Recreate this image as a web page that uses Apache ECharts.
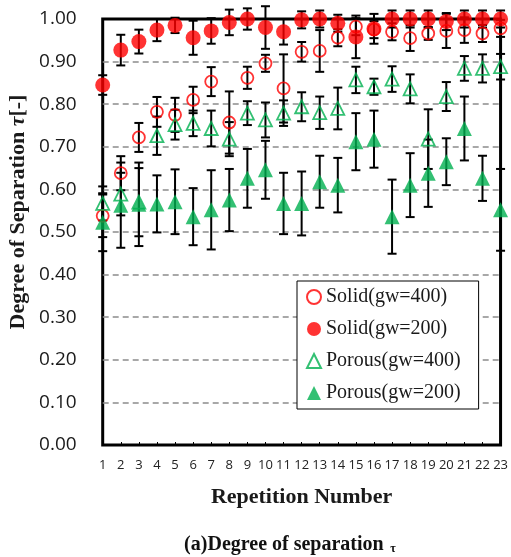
<!DOCTYPE html>
<html><head><meta charset="utf-8">
<script src="https://cdn.jsdelivr.net/npm/echarts@6/dist/echarts.min.js"></script>
<style>html,body{margin:0;padding:0;background:#fff}#c{width:511px;height:557px}</style>
</head><body><div id="c"></div>
<script>
const categories = ['1','2','3','4','5','6','7','8','9','10','11','12','13','14','15','16','17','18','19','20','21','22','23'];
const yTicks = [0,0.1,0.2,0.3,0.4,0.5,0.6,0.7,0.8,0.9,1.0];
const solid400 = [0.538,0.638,0.722,0.782,0.775,0.810,0.853,0.757,0.862,0.896,0.837,0.923,0.925,0.956,0.982,0.975,0.970,0.955,0.966,0.972,0.974,0.966,0.978];
const solid400Err = [0.050,0.040,0.034,0.035,0.040,0.031,0.034,0.073,0.026,0.020,0.080,0.023,0.049,0.020,0.020,0.020,0.020,0.030,0.015,0.040,0.030,0.020,0.020];
const solid200 = [0.845,0.927,0.947,0.974,0.985,0.956,0.972,0.992,1.000,0.980,0.970,0.998,1.000,0.990,0.958,0.977,1.000,1.000,1.000,0.994,1.000,1.000,1.000];
const solid200Err = [0.023,0.036,0.028,0.026,0.018,0.040,0.030,0.030,0.025,0.050,0.030,0.020,0.020,0.020,0.050,0.035,0.020,0.020,0.020,0.020,0.020,0.020,0.020];
const porous400 = [0.567,0.589,0.570,0.726,0.752,0.755,0.743,0.718,0.779,0.763,0.779,0.794,0.780,0.790,0.857,0.841,0.859,0.836,0.718,0.818,0.884,0.884,0.888];
const porous400Err = [0.040,0.050,0.080,0.045,0.035,0.030,0.042,0.040,0.028,0.041,0.030,0.034,0.038,0.049,0.031,0.019,0.030,0.034,0.070,0.034,0.029,0.033,0.030];
const porous200 = [0.523,0.563,0.565,0.566,0.571,0.536,0.552,0.575,0.626,0.646,0.567,0.567,0.618,0.610,0.712,0.718,0.536,0.610,0.638,0.665,0.743,0.626,0.552];
const porous200Err = [0.068,0.100,0.098,0.067,0.076,0.067,0.093,0.073,0.069,0.068,0.072,0.075,0.061,0.064,0.067,0.067,0.087,0.075,0.079,0.055,0.075,0.053,0.096];

const RED = '#FF0000', GREEN = '#00B050';
const serif = '"Liberation Serif","Times New Roman",serif';

function errSeries(vals, errs) {
  return {
    type: 'custom', z: 1, silent: true, clip: false,
    data: vals.map((v, i) => [i, v, errs[i]]),
    renderItem: function (params, api) {
      const x = api.value(0), v = api.value(1), e = api.value(2);
      const hi = api.coord([x, v + e]);
      const lo = api.coord([x, v - e]);
      const w = 4.5;
      const st = {stroke: '#000', lineWidth: 2};
      return {type: 'group', children: [
        {type: 'line', shape: {x1: hi[0], y1: hi[1], x2: lo[0], y2: lo[1]}, style: st},
        {type: 'line', shape: {x1: hi[0]-w, y1: hi[1], x2: hi[0]+w, y2: hi[1]}, style: st},
        {type: 'line', shape: {x1: lo[0]-w, y1: lo[1], x2: lo[0]+w, y2: lo[1]}, style: st}
      ]};
    }
  };
}
function pts(name, vals, symbol, size, style) {
  return {name: name, type: 'scatter', z: 3, clip: false, symbol: symbol, symbolSize: size,
    data: vals.map((v, i) => [i, v]), itemStyle: style};
}

const chart = echarts.init(document.getElementById('c'));
chart.setOption({
  animation: false,
  grid: {left: 102.7, right: 8, top: 19, bottom: 112, show: true, borderColor: '#000', borderWidth: 3, backgroundColor: 'transparent'},
  xAxis: {
    type: 'category', data: categories, boundaryGap: false,
    name: 'Repetition Number', nameLocation: 'middle', nameGap: 41,
    nameTextStyle: {fontFamily: serif, fontWeight: 'bold', fontSize: 22, color: '#1a1a1a'},
    axisLine: {show: false},
    axisTick: {show: true, inside: true, length: 3, alignWithLabel: true, lineStyle: {color: '#000', width: 1}},
    axisLabel: {interval: 0, margin: 14, fontFamily: '"Open Sans",sans-serif', fontSize: 13, color: '#222'},
    splitLine: {show: false}
  },
  yAxis: {
    type: 'value', min: yTicks[0], max: yTicks[yTicks.length-1], interval: 0.1,
    axisLine: {show: false}, axisTick: {show: false},
    axisLabel: {margin: 26, fontFamily: '"Open Sans",sans-serif', fontSize: 19, color: '#1a1a1a', formatter: v => v.toFixed(2)},
    splitLine: {show: true, showMinLine: false, showMaxLine: false, lineStyle: {color: '#8c8c8c', width: 1.6, type: [6, 4]}}
  },
  legend: {
    orient: 'vertical', left: 297, top: 281,
    backgroundColor: '#fff', borderColor: '#000', borderWidth: 1,
    padding: [6, 18, 6, 9], itemGap: 12, itemWidth: 14, itemHeight: 14,
    textStyle: {fontFamily: serif, fontSize: 20, color: '#1a1a1a'},
    data: ['Solid(gw=400)', 'Solid(gw=200)', 'Porous(gw=400)', 'Porous(gw=200)']
  },
  graphic: [
    {type: 'text', x: 18, y: 212, rotation: Math.PI/2,
      style: {text: '{b|Degree of Separation }{i|τ}{b|[-]}', align: 'center', verticalAlign: 'middle',
        rich: {b: {fontFamily: serif, fontWeight: 'bold', fontSize: 22, fill: '#1a1a1a'},
               i: {fontFamily: serif, fontWeight: 'bold', fontStyle: 'italic', fontSize: 22, fill: '#1a1a1a'}}}},
    {type: 'text', x: 290, y: 545,
      style: {text: '{a|(a)Degree of separation}  {t|τ}', align: 'center', verticalAlign: 'middle',
        rich: {a: {fontFamily: serif, fontWeight: 'bold', fontSize: 20, fill: '#111'},
               t: {fontFamily: serif, fontWeight: 'bold', fontSize: 12, fill: '#111', padding: [8, 0, 0, 0]}}}}
  ],
  series: [
    errSeries(solid400, solid400Err),
    errSeries(solid200, solid200Err),
    errSeries(porous400, porous400Err),
    errSeries(porous200, porous200Err),
    pts('Solid(gw=400)', solid400, 'circle', 12, {color: 'rgba(255,255,255,0)', borderColor: RED, borderWidth: 1.8}),
    pts('Solid(gw=200)', solid200, 'circle', 15, {color: RED}),
    pts('Porous(gw=400)', porous400, 'triangle', 13, {color: 'rgba(255,255,255,0)', borderColor: GREEN, borderWidth: 1.8}),
    pts('Porous(gw=200)', porous200, 'triangle', 15, {color: GREEN})
  ]
});
</script></body></html>
